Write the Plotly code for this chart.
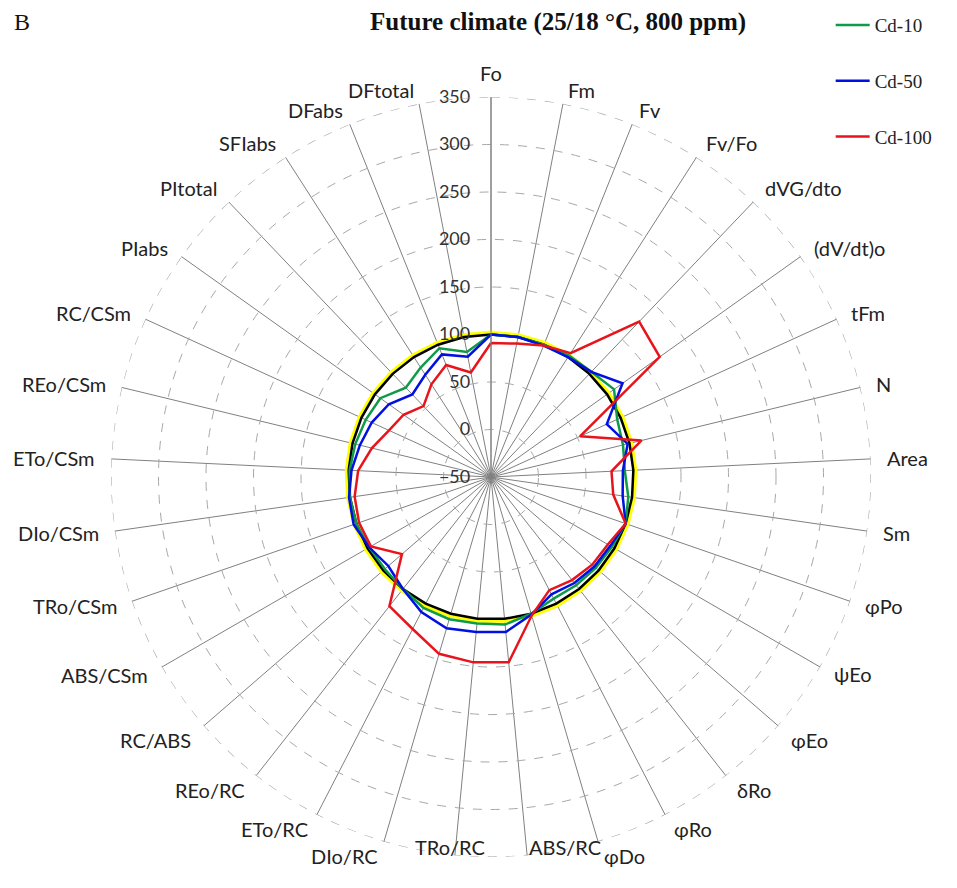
import math
import plotly.graph_objects as go

categories = [
    "Fo", "Fm", "Fv", "Fv/Fo", "dVG/dto", "(dV/dt)o", "tFm", "N", "Area", "Sm",
    "φPo", "ψEo", "φEo", "δRo", "φRo", "φDo", "ABS/RC", "TRo/RC", "DIo/RC",
    "ETo/RC", "REo/RC", "RC/ABS", "ABS/CSm", "TRo/CSm", "DIo/CSm", "ETo/CSm",
    "REo/CSm", "RC/CSm", "PIabs", "PItotal", "SFIabs", "DFabs", "DFtotal",
]

control = [100, 100, 100, 100, 100, 100, 100, 100, 100, 100, 100,
           100, 100, 100, 100, 100, 100, 100, 100, 100, 100, 100,
           100, 100, 100, 100, 100, 100, 100, 100, 100, 100, 100]

reference_band = [102, 102, 102, 102, 102, 102, 102, 102, 102, 102, 102,
                  102, 102, 102, 102, 102, 102, 102, 102, 102, 102, 102,
                  102, 102, 102, 102, 102, 102, 102, 102, 102, 102, 102]

cd10 = [100, 100, 100, 102, 103, 109, 96, 93, 91, 96, 100,
        97, 96, 95, 94, 100, 106, 105, 106, 105, 100, 98,
        98, 100, 100, 99, 97, 95, 93, 80, 87, 96, 84]

cd50 = [100, 100, 99, 100, 103, 120, 84, 98, 89, 90, 100,
        95, 94, 92, 89, 101, 114, 114, 116, 110, 100, 93,
        98, 103, 101, 97, 92, 88, 82, 70, 78, 89, 79]

cd100 = [91, 93, 99, 105, 176, 168, 53, 113, 77, 80, 100,
         92, 91, 88, 84, 102, 146, 146, 144, 130, 123, 74,
         96, 97, 95, 90, 79, 68, 63, 53, 66, 77, 62]

radial_ticks = [-50, 0, 50, 100, 150, 200, 250, 300, 350]
r_min, r_max = radial_ticks[0], radial_ticks[-1]


def closed(values):
    return list(values) + [values[0]]


theta = closed(categories)

fig = go.Figure()

# dashed outer ring at the top of the radial scale
fig.add_trace(go.Scatterpolar(
    r=[r_max] * 361, theta=list(range(361)), thetaunit="degrees", mode="lines",
    line=dict(color="#a8a8a8", width=1.2, dash="dash"), showlegend=False,
    hoverinfo="skip", subplot="polar2"))

fig.add_trace(go.Scatterpolar(
    r=closed(reference_band), theta=theta, mode="lines",
    line=dict(color="#ffff00", width=4), showlegend=False, hoverinfo="skip"))
fig.add_trace(go.Scatterpolar(
    r=closed(control), theta=theta, mode="lines",
    line=dict(color="#000000", width=2.5), showlegend=False))

series = [
    ("Cd-10", cd10, "#0f9a4a"),
    ("Cd-50", cd50, "#0010e0"),
    ("Cd-100", cd100, "#e8141c"),
]
for name, vals, color in series:
    fig.add_trace(go.Scatterpolar(
        r=closed(vals), theta=theta, mode="lines", name=name,
        legendgroup=name, line=dict(color=color, width=2.5)))

label_font = "Lato, Calibri, sans-serif"
serif_font = "Liberation Serif, Times New Roman, serif"

W, H = 957, 888
cx, cy, R = 491, 477, 380
domain = dict(x=[(cx - R) / W, (cx + R) / W], y=[(H - cy - R) / H, (H - cy + R) / H])

# category labels placed just outside the end of each spoke;
# the two labels nearest the bottom sit beside their spoke end
annotations = []
n = len(categories)
for i, cat in enumerate(categories):
    a = 2 * math.pi * i / n
    s, c = math.sin(a), math.cos(a)
    px = (cx + R * s) / W
    py = (H - cy + R * c) / H
    xa = "left" if s > 0.05 else ("right" if s < -0.05 else "center")
    dx = 14 * s
    if c > 0.6:
        ya, dy = "bottom", (10 if i == 0 else 0)
    elif c < -0.98:
        ya, dy = "middle", 8
        if s < 0:
            xa, dx = "center", -5
        else:
            dx = 0
    elif c < -0.6:
        ya, dy = "top", 0
    else:
        ya, dy = "middle", 15 * c
    annotations.append(dict(
        text=cat, x=px, y=py, xref="paper", yref="paper", showarrow=False,
        xanchor=xa, yanchor=ya, xshift=dx, yshift=dy,
        font=dict(family=label_font, size=20, color="#222")))

annotations += [
    dict(text="<b>Future climate (25/18 °C, 800 ppm)</b>", x=558 / W, y=1 - 22 / H,
         xref="paper", yref="paper", showarrow=False, xanchor="center", yanchor="middle",
         font=dict(family=serif_font, size=25, color="#111")),
    dict(text="B", x=12 / W, y=1 - 22 / H, xref="paper", yref="paper",
         showarrow=False, xanchor="left", yanchor="middle",
         font=dict(family=serif_font, size=24, color="#111")),
]

fig.update_layout(
    width=W, height=H,
    margin=dict(l=0, r=0, t=0, b=0),
    paper_bgcolor="white",
    plot_bgcolor="white",
    font=dict(family=label_font, size=20, color="#222"),
    polar=dict(
        domain=domain,
        bgcolor="white",
        angularaxis=dict(
            direction="clockwise", rotation=90,
            showgrid=True, gridcolor="#808080", gridwidth=1,
            showline=False, ticks="", showticklabels=False,
        ),
        radialaxis=dict(
            range=[r_min, r_max], tickvals=radial_ticks,
            angle=90, tickangle=90, side="counterclockwise",
            showline=True, linecolor="#808080", linewidth=1,
            showgrid=True, gridcolor="#a8a8a8", griddash="dash", gridwidth=1.2,
            ticks="outside", ticklen=14, tickcolor="rgba(0,0,0,0)",
            tickfont=dict(family=label_font, size=18, color="#333"),
        ),
    ),
    polar2=dict(
        domain=domain,
        bgcolor="rgba(0,0,0,0)",
        angularaxis=dict(visible=False, direction="clockwise", rotation=90),
        radialaxis=dict(visible=False, range=[r_min, r_max]),
    ),
    legend=dict(
        x=0.868, y=0.993, xanchor="left", yanchor="top",
        tracegroupgap=28, bgcolor="rgba(0,0,0,0)",
        font=dict(family=serif_font, size=19, color="#222"),
        itemwidth=34,
    ),
    annotations=annotations,
)

fig.write_html("out.html")
